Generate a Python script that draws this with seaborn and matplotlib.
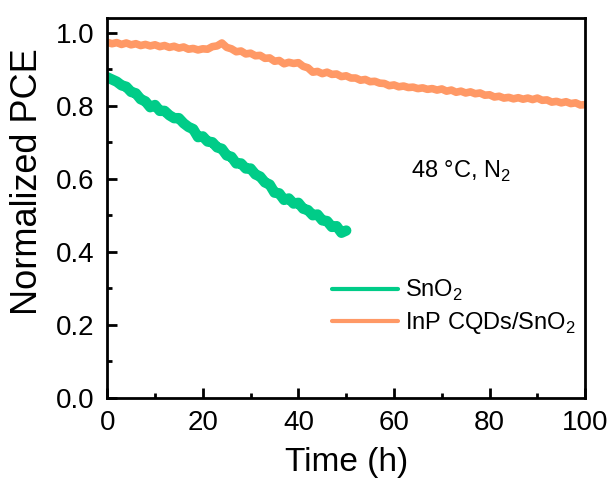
import pandas as pd
import seaborn as sns
import matplotlib.pyplot as plt
from matplotlib.ticker import MultipleLocator

# readings taken off the chart, one point per hour
sno2_time = list(range(0, 51))
sno2_pce = [0.878, 0.872, 0.866, 0.856, 0.852, 0.838, 0.834, 0.818, 0.812, 0.796,
            0.802, 0.786, 0.786, 0.774, 0.766, 0.766, 0.752, 0.742, 0.736, 0.714,
            0.716, 0.702, 0.700, 0.686, 0.682, 0.664, 0.660, 0.642, 0.642, 0.628,
            0.628, 0.612, 0.606, 0.590, 0.584, 0.562, 0.560, 0.542, 0.546, 0.532,
            0.534, 0.518, 0.514, 0.500, 0.502, 0.486, 0.484, 0.468, 0.470, 0.452,
            0.458]

inp_time = list(range(0, 101))
inp_pce = [0.974, 0.970, 0.973, 0.968, 0.972, 0.967, 0.970, 0.965, 0.968, 0.964,
           0.967, 0.962, 0.965, 0.960, 0.963, 0.958, 0.961, 0.955, 0.957, 0.953,
           0.956, 0.955, 0.962, 0.964, 0.972, 0.960, 0.956, 0.948, 0.950, 0.942,
           0.944, 0.937, 0.938, 0.930, 0.931, 0.922, 0.924, 0.915, 0.919, 0.916,
           0.918, 0.908, 0.904, 0.892, 0.894, 0.888, 0.892, 0.886, 0.887, 0.880,
           0.882, 0.876, 0.876, 0.870, 0.872, 0.866, 0.867, 0.862, 0.861, 0.855,
           0.857, 0.852, 0.854, 0.850, 0.851, 0.847, 0.849, 0.845, 0.847, 0.843,
           0.846, 0.840, 0.843, 0.837, 0.840, 0.835, 0.838, 0.833, 0.835, 0.829,
           0.830, 0.824, 0.826, 0.821, 0.823, 0.819, 0.822, 0.818, 0.821, 0.817,
           0.821, 0.815, 0.816, 0.810, 0.812, 0.808, 0.811, 0.806, 0.808, 0.802,
           0.803]

labels = ["SnO$_2$", "InP CQDs/SnO$_2$"]
colors = ["#00CC88", "#FF9966"]
x_ticks = [0, 20, 40, 60, 80, 100]
y_ticks = [0.0, 0.2, 0.4, 0.6, 0.8, 1.0]


def get_data():
    a = pd.DataFrame({"Time (h)": sno2_time, "PCE": sno2_pce, "device": labels[0]})
    b = pd.DataFrame({"Time (h)": inp_time, "PCE": inp_pce, "device": labels[1]})
    return pd.concat([a, b], ignore_index=True)


def graph(df):
    sns.set_theme(style="ticks")
    plt.rcParams["font.family"] = ["Liberation Sans", "DejaVu Sans"]
    plt.rcParams["mathtext.fontset"] = "custom"
    plt.rcParams["mathtext.rm"] = "Liberation Sans"
    for k in ["text.color", "axes.labelcolor", "xtick.color", "ytick.color"]:
        plt.rcParams[k] = "black"

    fig = plt.figure(figsize=(6.16, 4.91), dpi=100)
    ax = fig.add_axes([0.174, 0.19, 0.776, 0.773])

    sns.lineplot(ax=ax, data=df, x="Time (h)", y="PCE", hue="device",
                 hue_order=labels, palette=colors, linewidth=5.5, sort=False,
                 estimator=None)
    # the SnO2 trace is noisier, so its band is wider
    ax.lines[0].set_linewidth(7.5)

    ax.set_xlim(0, 100)
    ax.set_ylim(0, 1.04)
    ax.set_xticks(x_ticks)
    ax.set_yticks(y_ticks)
    ax.xaxis.set_minor_locator(MultipleLocator(10))
    ax.yaxis.set_minor_locator(MultipleLocator(0.1))
    ax.tick_params(which="both", direction="in", width=2, labelsize=20, pad=9)
    ax.tick_params(which="major", length=7)
    ax.tick_params(which="minor", length=3.5)
    for s in ax.spines.values():
        s.set_linewidth(2)
        s.set_color("black")

    ax.set_xlabel("Time (h)", fontsize=24, labelpad=8)
    ax.set_ylabel("Normalized PCE", fontsize=26)
    ax.yaxis.set_label_coords(-0.13, 0.57)

    ax.text(74, 0.62, "48 °C, N$_2$", fontsize=17, ha="center", va="center")

    leg = ax.legend(loc="upper left", bbox_to_anchor=(0.45, 0.34), frameon=False,
                    fontsize=17, handlelength=2.8, handletextpad=0.3,
                    labelspacing=0.3, borderaxespad=0)
    for line in leg.get_lines():
        line.set_linewidth(3)

    fig.savefig("out.png", dpi=100)


data = get_data()
graph(data)
